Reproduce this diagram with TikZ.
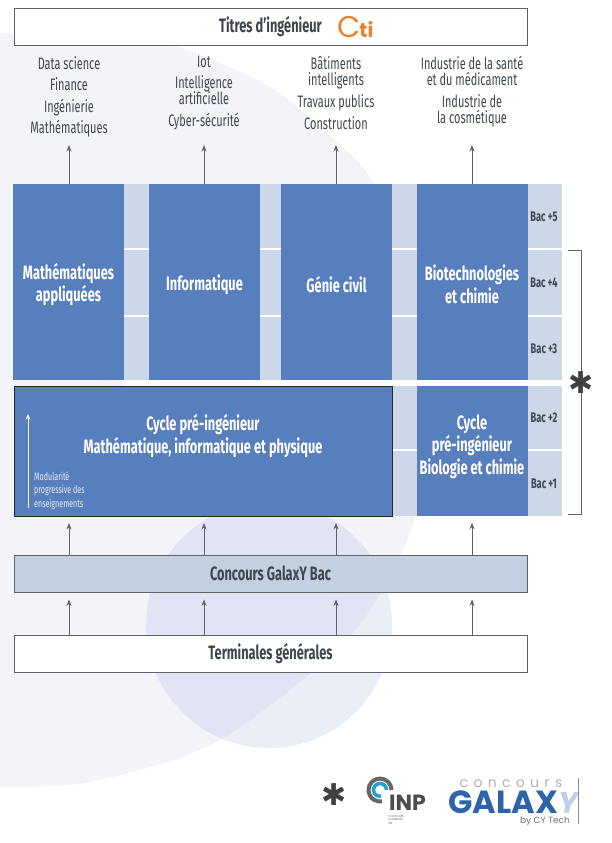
\documentclass[tikz,border=0pt]{standalone}
\usepackage{fontspec}
\usepackage{tikz}
\usetikzlibrary{arrows.meta}
\newfontfamily\condfont[FakeStretch=0.66]{Fira Sans}
\newfontfamily\logofont{Poppins}
\newfontfamily\spacedfont[LetterSpace=38]{Poppins}
\newfontfamily\starfont{DejaVu Sans}
\definecolor{pagepale}{HTML}{F3F4FA}
\definecolor{discblue}{HTML}{B0B8E0}
\definecolor{blockblue}{HTML}{587FBD}
\definecolor{gapblue}{HTML}{CCD7E7}
\definecolor{examblue}{HTML}{C3D0E2}
\definecolor{inktext}{HTML}{3F4650}
\definecolor{linegray}{HTML}{5F6368}
\definecolor{ctiorange}{HTML}{E8822A}
\definecolor{galaxblue}{HTML}{2C63A9}
\tikzset{
  framebox/.style={draw=linegray,line width=0.9pt,fill=white,minimum width=513pt,minimum height=37pt,inner sep=0pt,text=inktext,font=\condfont\bfseries\fontsize{19.4}{21}\selectfont},
  jobtext/.style={anchor=north,inner sep=0pt,align=center,text=inktext,font=\condfont\fontsize{16.6}{16}\selectfont\lineskiplimit-10pt\relax},
  colbox/.style={fill=blockblue,minimum width=111pt,minimum height=196pt,inner sep=0pt},
  blocktext/.style={inner sep=0pt,align=center,text=white,font=\condfont\bfseries\fontsize{19.4}{22.5}\selectfont},
  baclabel/.style={inner sep=0pt,text=inktext,font=\condfont\bfseries\fontsize{14}{14}\selectfont},
  uparrow/.style={draw=linegray,line width=1pt,-{Stealth[length=6.5pt,width=5pt]}}
}
\begin{document}
\begin{tikzpicture}[x=1pt,y=-1pt]
 \useasboundingbox (0,0) rectangle (611,843);

% Pale shapes behind everything
 \begin{scope}
  \clip (0,0) rectangle (611,843);
  \fill[pagepale] plot[smooth] coordinates {(-30,34) (60,33) (120,36) (173,45) (267,85) (333,138) (373,182) (410,270) (430,400) (416,516) (353,633) (220,740) (100,780) (25,787) (-30,785)} -- cycle;
  \fill[discblue,opacity=0.25] (269,625) circle (123);
 \end{scope}

% Light bands behind the columns
 \fill[gapblue] (124,184) rectangle (562,380);
 \fill[gapblue] (392,386) rectangle (562,516);
 \fill[white] (124,380) rectangle (562,386);
 \draw[white,line width=2pt] (124,249) -- (562,249);
 \draw[white,line width=2pt] (124,316) -- (562,316);
 \draw[white,line width=2pt] (392,450) -- (562,450);

% Top frame and its logo
 \node[framebox] (titres) at (270.5,26.5) {Titres d’ingénieur};
 \node[inner sep=0pt,text=ctiorange,font=\logofont\fontsize{30}{30}\selectfont] (ctic) at (349,27) {C};
 \node[inner sep=0pt,text=ctiorange,font=\logofont\bfseries\fontsize{20}{20}\selectfont] (ctiti) at (366.5,29) {ti};

% Career lists
 \node[jobtext] (jobsmath) at (69,56) {\strut Data science\\[5.5pt]Finance\\[5.5pt]Ingénierie\\[5.5pt]Mathématiques};
 \node[jobtext] (jobsinfo) at (204,56) {\strut Iot\\[5pt]Intelligence\\artificielle\\[6pt]Cyber-sécurité};
 \node[jobtext] (jobscivil) at (336,56) {\strut Bâtiments\\intelligents\\[6pt]Travaux publics\\[6pt]Construction};
 \node[jobtext] (jobsbio) at (472,56) {\strut Industrie de la santé\\et du médicament\\[6pt]Industrie de\\la cosmétique};

% Arrow ends above the columns
 \coordinate (outmath) at (69,145);
 \coordinate (outinfo) at (204,145);
 \coordinate (outcivil) at (336,145);
 \coordinate (outbio) at (472,145);

% Engineering columns
 \node[colbox] (math) at (68.5,282) {};
 \node[blocktext] (mathtext) at (68.5,284.5) {Mathématiques\\appliquées};
 \node[colbox] (info) at (204.5,282) {};
 \node[blocktext] (infotext) at (204.5,285) {Informatique};
 \node[colbox] (civil) at (336.5,282) {};
 \node[blocktext] (civiltext) at (336.5,285) {Génie civil};
 \node[colbox] (bio) at (472.5,282) {};
 \node[blocktext] (biotext) at (472,284.5) {Biotechnologies\\et chimie};

% Preparatory cycle
 \node[colbox,draw=black!85,line width=0.9pt,minimum width=378pt,minimum height=130pt] (cycle) at (203,451) {};
 \node[blocktext] (cycletitle) at (203,436) {Cycle pré-ingénieur\\Mathématique, informatique et physique};
 \node[colbox,minimum height=130pt] (cyclebio) at (472.5,451) {};
 \node[blocktext] (cyclebiotitle) at (472,446.5) {Cycle\\pré-ingénieur\\Biologie et chimie};
 \coordinate (modulbase) at (28,508);
 \coordinate (modultop) at (28,414);
 \draw[draw=white,line width=0.9pt,-{Stealth[length=5.5pt,width=4.5pt]}] (modulbase) -- (modultop); % White arrow
 \node[anchor=west,inner sep=0pt,align=left,text=white!85!blockblue,font=\condfont\fontsize{10.8}{13.5}\selectfont] (modul) at (34,490.5) {Modularité\\progressive des\\enseignements};

% Year labels
 \node[baclabel] (bac5) at (544,217) {Bac +5};
 \node[baclabel] (bac4) at (544,283) {Bac +4};
 \node[baclabel] (bac3) at (544,349) {Bac +3};
 \node[baclabel] (bac2) at (544,418) {Bac +2};
 \node[baclabel] (bac1) at (544,484) {Bac +1};

% Bracket with its star
 \coordinate (brtop) at (568,250);
 \coordinate (brbottom) at (568,514);
 \draw[draw=linegray,line width=0.9pt] (brtop) -- (581,250) -- (581,514) -- (brbottom);
 \node[inner sep=0pt,text=black!75,font=\starfont\fontsize{30}{30}\selectfont] (bracketstar) at (581,383) {✱};

% Exam and school frames
 \node[framebox,fill=examblue] (concours) at (270.5,573.5) {Concours GalaxY Bac};
 \node[framebox] (terminales) at (270.5,654) {Terminales générales};

% Arrows, top row
 \draw[uparrow] (math.north -| outmath) -- (outmath);
 \draw[uparrow] (info.north -| outinfo) -- (outinfo);
 \draw[uparrow] (civil.north -| outcivil) -- (outcivil);
 \draw[uparrow] (bio.north -| outbio) -- (outbio);

% Arrows, exam to cycles
 \draw[uparrow,shorten >=6.5pt] (concours.north -| outmath) -- (cycle.south -| outmath);
 \draw[uparrow,shorten >=6.5pt] (concours.north -| outinfo) -- (cycle.south -| outinfo);
 \draw[uparrow,shorten >=6.5pt] (concours.north -| outcivil) -- (cycle.south -| outcivil);
 \draw[uparrow,shorten >=6.5pt] (concours.north -| outbio) -- (cyclebio.south -| outbio);

% Arrows, school to exam
 \draw[uparrow,shorten >=7pt] (terminales.north -| outmath) -- (concours.south -| outmath);
 \draw[uparrow,shorten >=7pt] (terminales.north -| outinfo) -- (concours.south -| outinfo);
 \draw[uparrow,shorten >=7pt] (terminales.north -| outcivil) -- (concours.south -| outcivil);
 \draw[uparrow,shorten >=7pt] (terminales.north -| outbio) -- (concours.south -| outbio);

% Footer logos
 \node[inner sep=0pt,text=black!75,font=\starfont\fontsize{30}{30}\selectfont] (footstar) at (334,795) {✱};
 \draw[draw=black!60,line width=4pt] (391.5,790) arc[start angle=0,end angle=-280,radius=11.5];
 \draw[draw=cyan!70!teal,line width=3.5pt] (386.5,790) arc[start angle=0,end angle=-280,radius=6.5];
 \node[anchor=base west,inner sep=0pt,text height=12pt,text depth=0pt,text=black!70,font=\logofont\bfseries\fontsize{22}{22}\selectfont] (inp) at (389,810) {INP};
 \node[anchor=north west,inner sep=0pt,align=left,text=black!60,font=\logofont\fontsize{2.8}{3.6}\selectfont] (inpsmall) at (388,815) {CONCOURS\\COMMUNS\\INP};
 \node[inner sep=0pt,text=black!30,font=\spacedfont\fontsize{14}{14}\selectfont] (galaxtop) at (511,784) {concours};
 \node[anchor=base west,inner sep=0pt,text height=20pt,text depth=0pt,text=galaxblue,font=\logofont\bfseries\fontsize{32}{32}\selectfont] (galax) at (448,813) {GALAX};
 \node[anchor=base west,inner sep=0pt,text height=20pt,text depth=0pt,text=galaxblue!30,font=\logofont\bfseries\itshape\fontsize{30}{30}\selectfont] (galaxy) at (558,813) {Y};
 \node[inner sep=0pt,text=black!55,font=\logofont\fontsize{9}{10}\selectfont] (bycy) at (545,821) {by CY Tech};
 \coordinate (logotop) at (578,778);
 \coordinate (logobottom) at (578,824);
 \draw[draw=black!45,line width=1pt] (logotop) -- (logobottom);

\end{tikzpicture}
\end{document}
